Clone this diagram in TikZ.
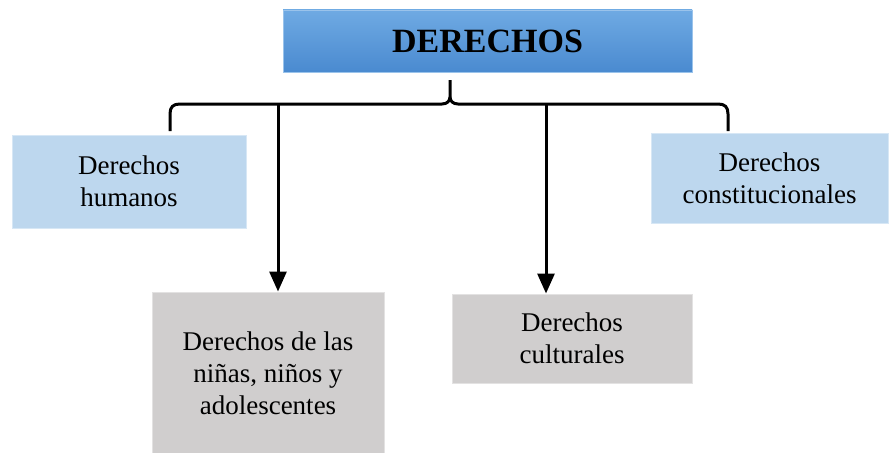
\documentclass[tikz,border=0pt]{standalone}
\usepackage{fontspec}
\setmainfont{Liberation Serif}
\usetikzlibrary{arrows.meta}
\definecolor{topblue}{HTML}{6FAAE3}
\definecolor{botblue}{HTML}{4A8AD0}
\definecolor{lightblue}{HTML}{BDD7EE}
\definecolor{boxgray}{HTML}{D0CECE}
\tikzset{
  base/.style={inner sep=0pt, align=center, font=\fontsize{27}{32}\selectfont, text=black},
  bluebox/.style={base, fill=lightblue, draw=lightblue!60!white, line width=1pt},
  graybox/.style={base, fill=boxgray, draw=boxgray!60!white, line width=1pt},
  titlebox/.style={inner sep=0pt, top color=topblue, bottom color=botblue, draw=topblue!70!white, line width=0.8pt, font=\fontsize{34}{40}\selectfont\bfseries},
  bracel/.style={line width=3pt, line cap=butt, line join=round},
  arr/.style={line width=3pt, -{Triangle[width=17pt,length=20pt]}}
}
\begin{document}
\begin{tikzpicture}[x=1pt,y=-1pt]
\useasboundingbox (0,0) rectangle (890,452);
\node[titlebox, minimum width=409pt, minimum height=62pt] (top) at (487.5,41) {DERECHOS};
\node[bluebox, minimum width=234pt, minimum height=93pt] (hum) at (129,181.5) {Derechos\\humanos};
\node[bluebox, minimum width=237pt, minimum height=90pt] (con) at (769.5,178) {Derechos\\constitucionales};
\node[graybox, minimum width=232pt, minimum height=162pt] (nin) at (268,373) {Derechos de las\\niñas, niños y\\adolescentes};
\node[graybox, minimum width=240pt, minimum height=89pt] (cul) at (572,338.5) {Derechos\\culturales};
\coordinate (tip) at (450,80);
\coordinate (bl) at (170,131);
\coordinate (br) at (728,131);
\coordinate (a1) at (278,104);
\coordinate (a2) at (546,104);
\draw[bracel] (bl) -- (170,114) .. controls (170,107) and (173,104) .. (180,104) -- (442,104) .. controls (447,104) and (450,101) .. (450,97) -- (tip);
\draw[bracel] (br) -- (728,114) .. controls (728,107) and (725,104) .. (718,104) -- (458,104) .. controls (453,104) and (450,101) .. (450,97);
\draw[arr] (a1) -- (a1 |- nin.north);
\draw[arr] (a2) -- (a2 |- cul.north);
\end{tikzpicture}
\end{document}
